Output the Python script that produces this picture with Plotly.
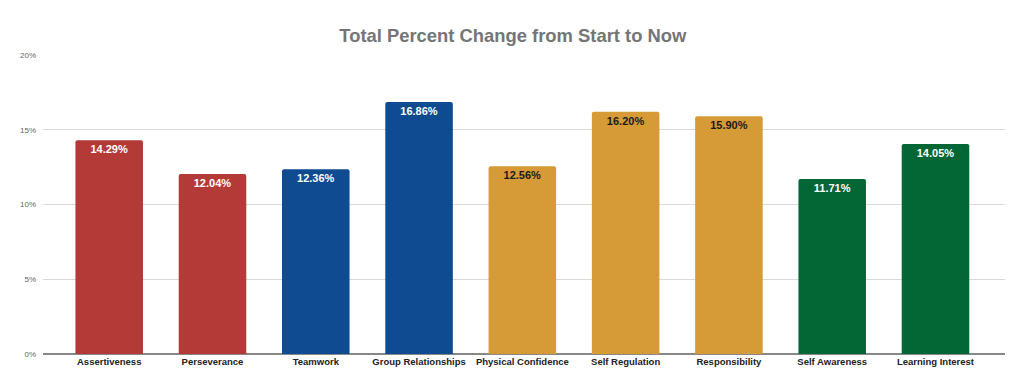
import plotly.graph_objects as go

categories = ["Assertiveness", "Perseverance", "Teamwork", "Group Relationships",
              "Physical Confidence", "Self Regulation", "Responsibility",
              "Self Awareness", "Learning Interest"]
values = [14.29, 12.04, 12.36, 16.86, 12.56, 16.20, 15.90, 11.71, 14.05]
bar_colors = ["#b33a37", "#b33a37", "#0f4b91", "#0f4b91", "#d69a37",
              "#d69a37", "#d69a37", "#036635", "#036635"]
label_colors = ["#ffffff", "#ffffff", "#ffffff", "#ffffff", "#1a1a1a",
                "#1a1a1a", "#1a1a1a", "#ffffff", "#ffffff"]
y_ticks = [0, 5, 10, 15, 20]
y_tick_labels = ["0%", "5%", "10%", "15%", "20%"]

fig = go.Figure(go.Bar(
    x=categories,
    y=values,
    marker=dict(color=bar_colors, line=dict(width=0), cornerradius=2),
    text=[f"{v:.2f}%" for v in values],
    textposition="inside",
    insidetextanchor="end",
    textangle=0,
    textfont=dict(family="Liberation Sans, Arial", size=11, color=label_colors, weight="bold"),
    cliponaxis=False,
))

fig.update_layout(
    width=1024, height=387,
    margin=dict(l=32, r=27, t=47, b=41),
    paper_bgcolor="white", plot_bgcolor="white",
    title=dict(text="<b>Total Percent Change from Start to Now</b>",
               x=0.493, xanchor="center", y=0.93, yanchor="middle",
               font=dict(family="Liberation Sans, Arial", size=18.4, color="#757575")),
    bargap=0.346,
    showlegend=False,
    font=dict(family="Liberation Sans, Arial"),
)
fig.update_xaxes(
    range=[-0.641, 8.673],
    showgrid=False, showline=False, ticks="",
    tickfont=dict(family="Liberation Sans, Arial", size=9.5, color="#222222", weight="bold"),
)
fig.update_yaxes(
    range=[0, 20],
    tickvals=y_ticks, ticktext=y_tick_labels,
    showgrid=True, gridcolor="#d9d9d9", gridwidth=1,
    zeroline=True, zerolinecolor="#888888", zerolinewidth=1.5,
    tickfont=dict(family="Liberation Sans, Arial", size=8, color="#666666"),
    ticks="", ticklabelstandoff=6,
)

fig.write_html("out.html")
